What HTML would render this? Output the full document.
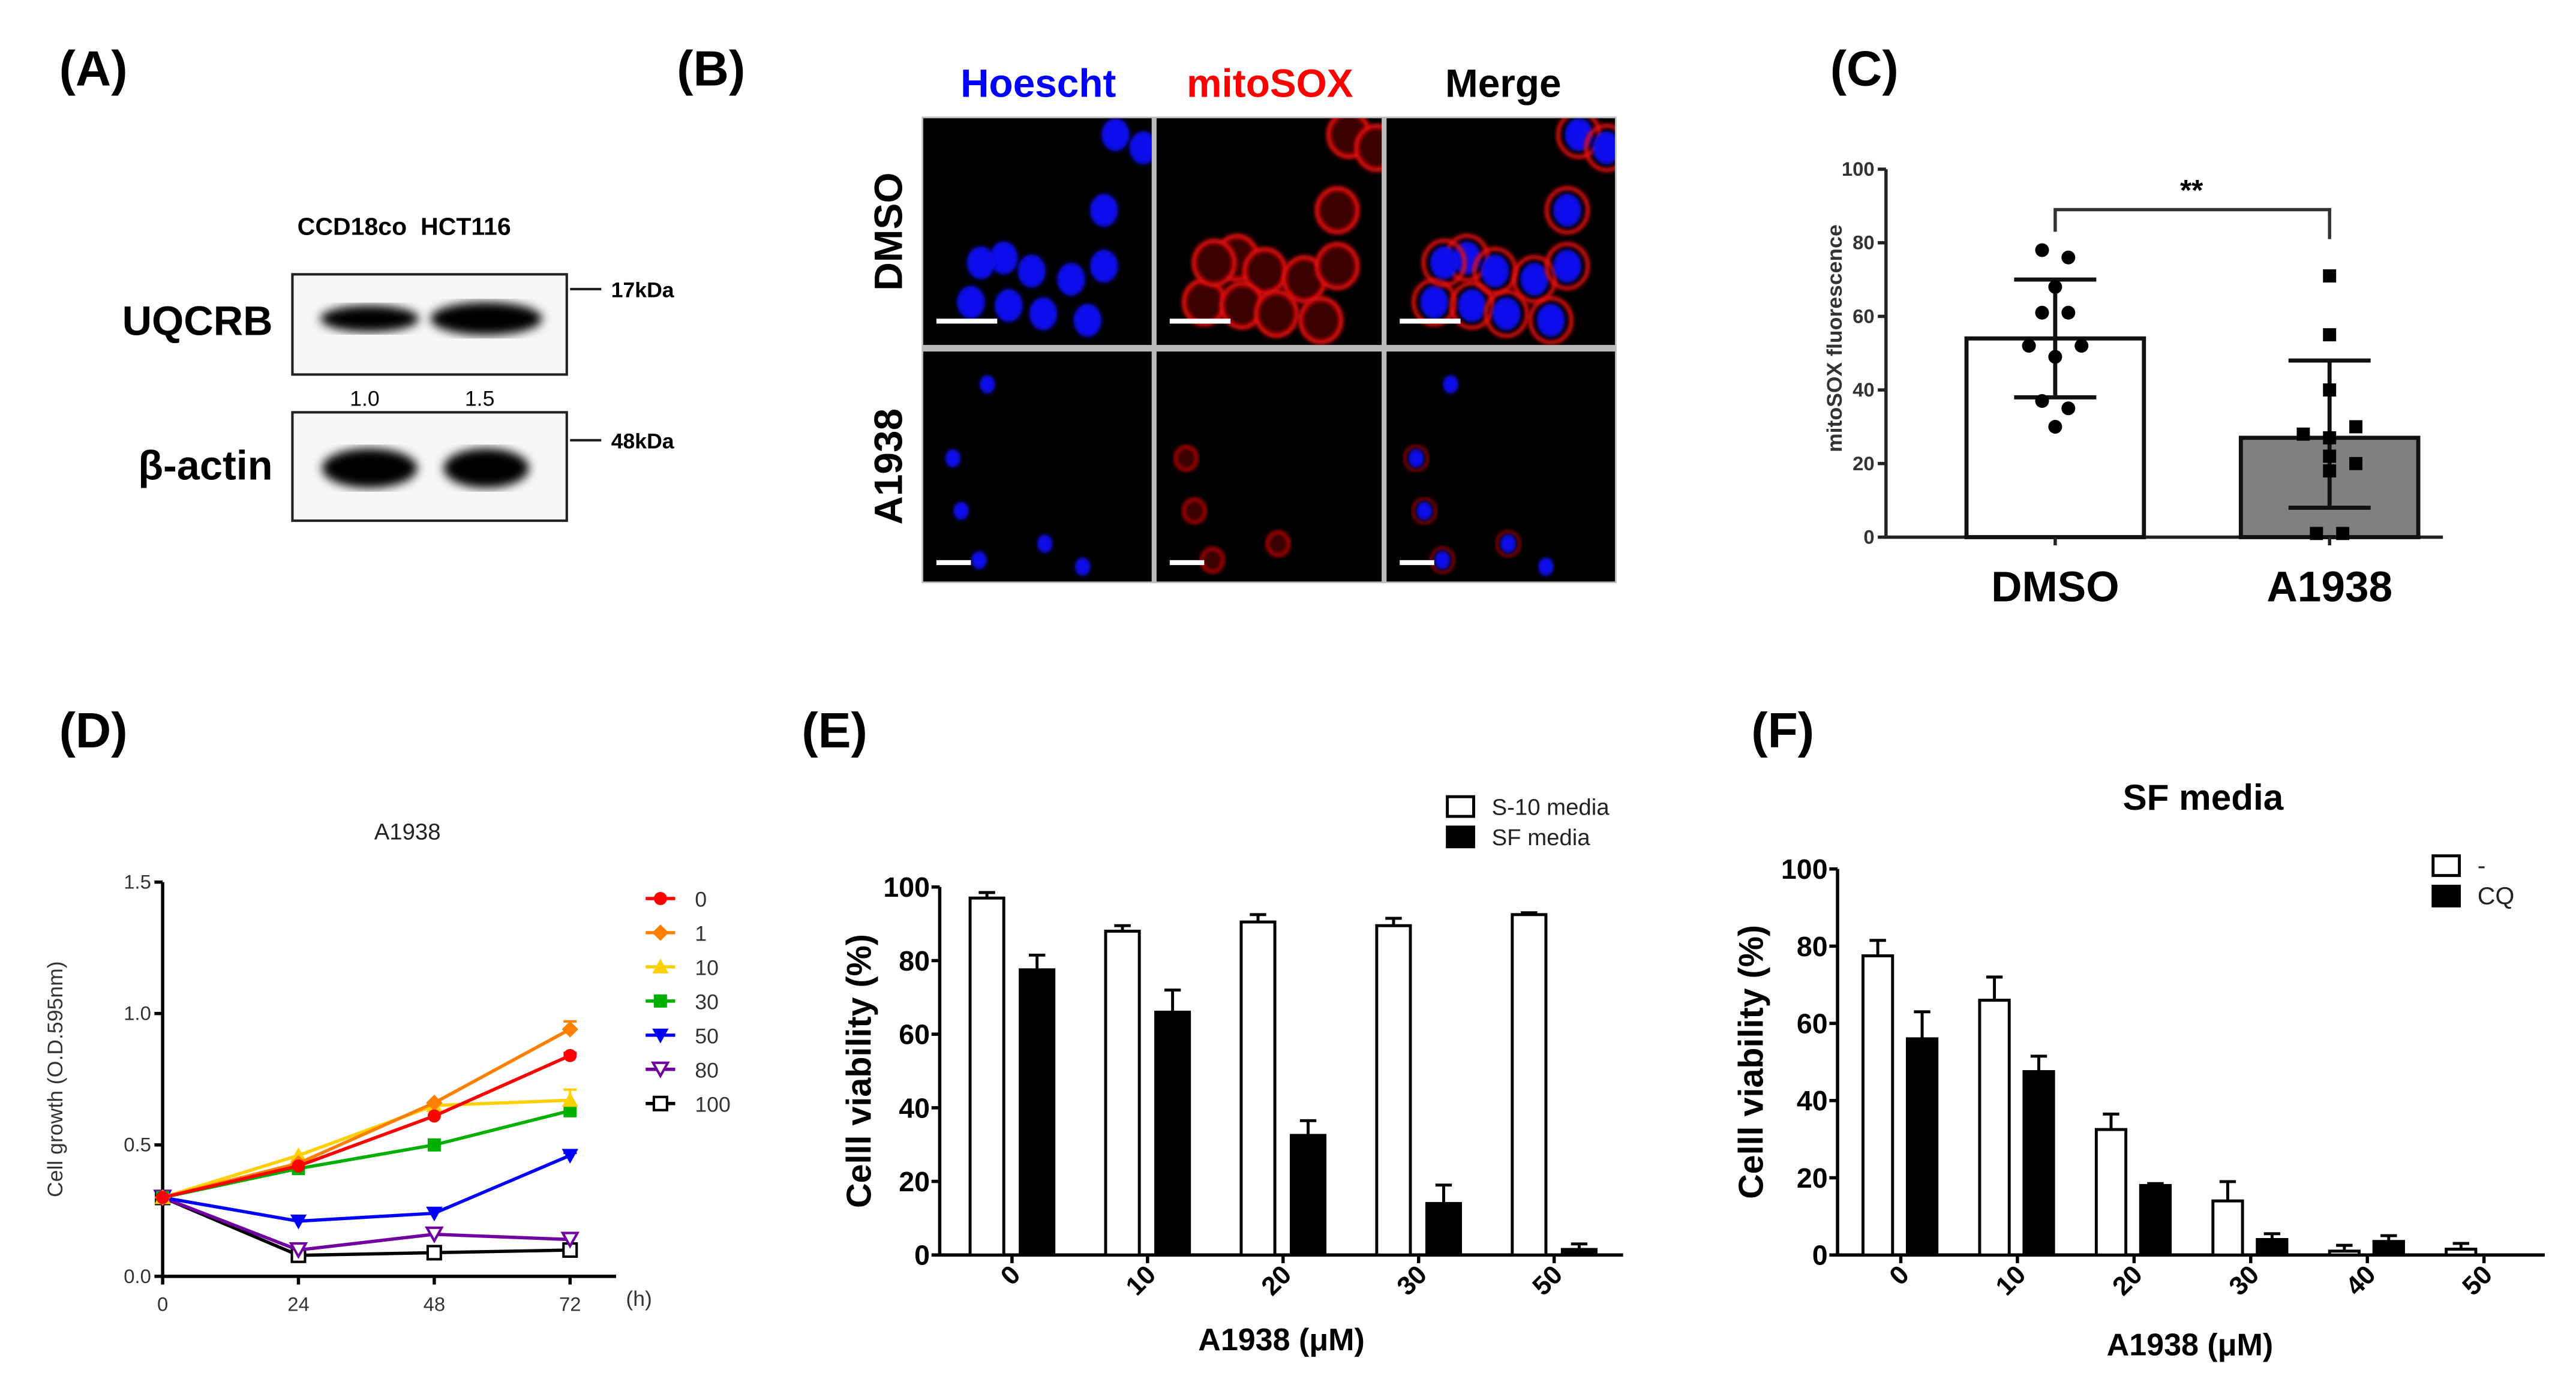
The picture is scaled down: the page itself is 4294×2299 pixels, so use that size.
<!DOCTYPE html>
<html><head><meta charset="utf-8"><style>
html,body{margin:0;padding:0;background:#fff;}
svg{display:block;font-family:"Liberation Sans",sans-serif;}
</style></head><body>
<svg id="fig" width="4294" height="2299" viewBox="0 0 1568 839.5" xmlns="http://www.w3.org/2000/svg">
<defs>
<filter id="blur1"><feGaussianBlur stdDeviation="3"/></filter>
<filter id="blur2"><feGaussianBlur stdDeviation="1.2"/></filter>
</defs>
<g font-weight="bold" font-size="30" fill="#000">
<text x="36" y="52">(A)</text>
<text x="412" y="52">(B)</text>
<text x="1114" y="52">(C)</text>
<text x="36" y="455">(D)</text>
<text x="488" y="455">(E)</text>
<text x="1066" y="455">(F)</text>
</g>
<g>
<text x="181" y="143" font-size="15" font-weight="bold">CCD18co&#160;&#160;HCT116</text>
<text x="166" y="204" font-size="25" font-weight="bold" text-anchor="end">UQCRB</text>
<rect x="178" y="167" width="167" height="61" fill="#f7f7f7" stroke="#222" stroke-width="1.5"/>
<ellipse cx="225" cy="194" rx="30" ry="8" fill="#000" filter="url(#blur1)"/>
<ellipse cx="296" cy="194" rx="34" ry="10" fill="#000" filter="url(#blur1)"/>
<line x1="347" y1="176" x2="366" y2="176" stroke="#222" stroke-width="1.5"/>
<text x="372" y="181" font-size="13" font-weight="bold">17kDa</text>
<text x="222" y="247" font-size="13" text-anchor="middle">1.0</text>
<text x="292" y="247" font-size="13" text-anchor="middle">1.5</text>
<text x="166" y="292" font-size="25" font-weight="bold" text-anchor="end">β-actin</text>
<rect x="178" y="251" width="167" height="66" fill="#f7f7f7" stroke="#222" stroke-width="1.5"/>
<ellipse cx="225" cy="285" rx="29" ry="12" fill="#000" filter="url(#blur1)"/>
<ellipse cx="296" cy="285" rx="26" ry="12" fill="#000" filter="url(#blur1)"/>
<line x1="347" y1="268" x2="366" y2="268" stroke="#222" stroke-width="1.5"/>
<text x="372" y="273" font-size="13" font-weight="bold">48kDa</text>
</g>
<g font-weight="bold" font-size="24">
<text x="632" y="59" fill="#0000ff" text-anchor="middle">Hoescht</text>
<text x="773" y="59" fill="#ff0000" text-anchor="middle">mitoSOX</text>
<text x="915" y="59" fill="#000" text-anchor="middle">Merge</text>
<text transform="translate(549,141) rotate(-90)" text-anchor="middle">DMSO</text>
<text transform="translate(549,284) rotate(-90)" text-anchor="middle">A1938</text>
<rect x="561" y="71" width="423" height="284" fill="#bbb"/>
<g id="micro"></g>
</g>
<g id="chartC"></g>
<g id="chartD"></g>
<g id="chartE"></g>
<g id="chartF"></g>
</svg>
<script>
const NS='http://www.w3.org/2000/svg';
function mk(tag,attrs,parent){const e=document.createElementNS(NS,tag);for(const k in attrs)e.setAttribute(k,attrs[k]);parent.appendChild(e);return e;}
function txt(s,attrs,parent){const e=mk('text',attrs,parent);e.textContent=s;return e;}

const micro=document.getElementById('micro');
const colX=[562,704,844], colW=[139,137,139];
const rowY=[72,214], rowH=[138,140];
const dmsoCells=[[29,112],[49,85],[66,93],[90,98],[110,90],[110,56],[52,114],[73,119],[100,123],[35,88],[117,10],[134,18]];
const aCells=[[39,20],[18,65],[23,97],[34,127],[74,117],[97,131]];
for(let r=0;r<2;r++)for(let c=0;c<3;c++){
  const p=mk('rect',{x:colX[c],y:rowY[r],width:colW[c],height:rowH[r],fill:'#000'},micro);
  
  
  const cells=r===0?dmsoCells:aCells, rad=r===0?10:5.5;
  const g=mk('g',{},micro);
  const cp=mk('clipPath',{id:'cp'+r+c},g);
  mk('rect',{x:colX[c],y:rowY[r],width:colW[c],height:rowH[r]},cp);
  const gg=mk('g',{'clip-path':'url(#cp'+r+c+')'},g);
  cells.forEach((pt,i)=>{
    const cx=colX[0]+pt[0]+(colX[c]-colX[0]), cy=rowY[r]+pt[1];
    if(c!==0&&(r===0||i===1||i===2||i===3||i===4)){const e=mk('ellipse',{cx:cx,cy:cy,rx:rad*1.25,ry:rad*1.35,fill:c===1?'#3a0000':'none',stroke:'#e01010','stroke-width':r===0?2.5:1.2,filter:'url(#blur2)'},gg);
      
      }
    if(c!==1){const e=mk('ellipse',{cx:cx,cy:cy,rx:rad*0.85,ry:rad,fill:'#1010ee',filter:'url(#blur2)'},gg);
      
      }
  });
  const sb=mk('rect',{x:colX[c]+8,y:rowY[r]+(r===0?122:127),width:r===0?37:21,height:3,fill:'#fff'},micro);
  
  
}

const cCats=['DMSO','A1938'];
const cMeans=[54,27];
const cLo=[38,8];
const cHi=[70,48];
const cDmsoPts=[78,76,68,61,61,52,52,49,37,35,30];
const cA1938Pts=[71,55,40,28,27,30,22,20,18,1,1];
const cTicks=[0,20,40,60,80,100];
(function(){
  const g=document.getElementById('chartC');
  const y=v=>327-v*2.24, cx=[1251,1418], bw=108;
  const ax=mk('path',{d:'M1148,103 V327 H1487',stroke:'#222','stroke-width':2,fill:'none'},g);
  
  
  cTicks.forEach(t=>{mk('line',{x1:1143,x2:1148,y1:y(t),y2:y(t),stroke:'#222','stroke-width':2},g);
    const l=txt(String(t),{x:1141,y:y(t)+4,'font-size':12,'font-weight':'bold','text-anchor':'end',fill:'#333'},g);
    
    });
  const yl=txt('mitoSOX fluorescence',{transform:'translate(1121,206) rotate(-90)','font-size':13,'font-weight':'bold','text-anchor':'middle',fill:'#333'},g);
  
  
  const fills=['#fff','#808080'];
  cCats.forEach((c,i)=>{
    const b=mk('rect',{x:cx[i]-bw/2,y:y(cMeans[i]),width:bw,height:cMeans[i]*2.24,fill:fills[i],stroke:'#111','stroke-width':2.5},g);
    
    
    mk('line',{x1:cx[i],x2:cx[i],y1:y(cHi[i]),y2:y(cLo[i]),stroke:'#111','stroke-width':2.5},g);
    [cHi[i],cLo[i]].forEach(v=>mk('line',{x1:cx[i]-25,x2:cx[i]+25,y1:y(v),y2:y(v),stroke:'#111','stroke-width':2.5},g));
    mk('line',{x1:cx[i],x2:cx[i],y1:327,y2:332,stroke:'#222','stroke-width':2},g);
    const l=txt(c,{x:cx[i],y:366,'font-size':26,'font-weight':'bold','text-anchor':'middle'},g);
    
    
  });
  const off=[-8,8,0,-8,8,-16,16,0,-8,8,0];
  cDmsoPts.forEach((v,k)=>{const d=mk('circle',{cx:cx[0]+off[k],cy:y(v),r:4.2,fill:'#000'},g);
    
    });
  const off2=[0,0,0,-16,0,16,0,16,0,-8,8];
  cA1938Pts.forEach((v,k)=>{const d=mk('rect',{x:cx[1]+off2[k]-4,y:y(v)-4,width:8,height:8,fill:'#000'},g);
    
    });
  const br=mk('path',{d:`M${cx[0]},${y(83)} V${y(89)} H${cx[1]} V${y(81)}`,stroke:'#333','stroke-width':2,fill:'none'},g);
  
  
  const s=txt('**',{x:1334,y:122,'font-size':18,'font-weight':'bold','text-anchor':'middle'},g);
  
  
})();

const dHours=[0,24,48,72];
const dDoses=['0','1','10','30','50','80','100'];
const dS0=[0.30,0.42,0.61,0.84];
const dS1=[0.30,0.43,0.66,0.94];
const dS10=[0.30,0.46,0.65,0.67];
const dS30=[0.30,0.41,0.50,0.63];
const dS50=[0.30,0.21,0.24,0.46];
const dS80=[0.30,0.10,0.16,0.14];
const dS100=[0.30,0.08,0.09,0.10];
const dErr72=[0.01,0.03,0.04,0.02,0.01,0.02,0.01];
const dYTicks=['0.0','0.5','1.0','1.5'];
(function(){
  const g=document.getElementById('chartD');
  const series=[dS0,dS1,dS10,dS30,dS50,dS80,dS100];
  const colors=['#ff0000','#ff8000','#ffd000','#00b000','#0000ff','#7000a0','#000000'];
  const x=h=>99+h*(347-99)/72, y=v=>777-v*160;
  const ax=mk('path',{d:'M99,537 V777 H375',stroke:'#000','stroke-width':2,fill:'none'},g);
  
  
  dYTicks.forEach(t=>{const v=parseFloat(t);mk('line',{x1:94,x2:99,y1:y(v),y2:y(v),stroke:'#000','stroke-width':2},g);
    const l=txt(t,{x:92,y:y(v)+4,'font-size':12,'text-anchor':'end',fill:'#333'},g);
    
    });
  dHours.forEach(h=>{mk('line',{x1:x(h),x2:x(h),y1:777,y2:782,stroke:'#000','stroke-width':2},g);
    const l=txt(String(h),{x:x(h),y:798,'font-size':12,'text-anchor':'middle',fill:'#333'},g);
    
    });
  const hl=txt('(h)',{x:381,y:795,'font-size':13,fill:'#333'},g);
  
  
  const tt=txt('A1938',{x:248,y:511,'font-size':14,'text-anchor':'middle',fill:'#222'},g);
  
  
  const yl=txt('Cell growth (O.D.595nm)',{transform:'translate(38,657) rotate(-90)','font-size':13,'text-anchor':'middle',fill:'#333'},g);
  
  
  function marker(k,cx,cy,par){
    const c=colors[k];let e;
    if(k===0)e=mk('circle',{cx:cx,cy:cy,r:4,fill:c},par);
    else if(k===1)e=mk('path',{d:`M${cx},${cy-5} L${cx+5},${cy} L${cx},${cy+5} L${cx-5},${cy} Z`,fill:c},par);
    else if(k===2)e=mk('path',{d:`M${cx},${cy-5} L${cx+5},${cy+4} L${cx-5},${cy+4} Z`,fill:c},par);
    else if(k===3)e=mk('rect',{x:cx-4,y:cy-4,width:8,height:8,fill:c},par);
    else if(k===4)e=mk('path',{d:`M${cx-5},${cy-4} L${cx+5},${cy-4} L${cx},${cy+5} Z`,fill:c},par);
    else if(k===5)e=mk('path',{d:`M${cx-4.5},${cy-4} L${cx+4.5},${cy-4} L${cx},${cy+4} Z`,fill:'#fff',stroke:c,'stroke-width':1.5},par);
    else e=mk('rect',{x:cx-4,y:cy-4,width:8,height:8,fill:'#fff',stroke:c,'stroke-width':1.5},par);
    return e;
  }
  for(let k=series.length-1;k>=0;k--){
    const s=series[k];
    const ln=mk('polyline',{points:s.map((v,i)=>x(dHours[i])+','+y(v)).join(' '),fill:'none',stroke:colors[k],'stroke-width':2},g);
    
    
    const e72=dErr72[k];
    mk('path',{d:`M${x(72)},${y(s[3])} V${y(s[3]+e72)} M${x(72)-4},${y(s[3]+e72)} H${x(72)+4}`,stroke:colors[k],'stroke-width':1.5,fill:'none'},g);
    s.forEach((v,i)=>{const m=marker(k,x(dHours[i]),y(v),g);
      
      });
  }
  dDoses.forEach((d,k)=>{
    const ly=547+k*20.8;
    const lg=mk('g',{},g);
    
    
    mk('line',{x1:393,x2:411,y1:ly,y2:ly,stroke:colors[k],'stroke-width':2},lg);
    marker(k,402,ly,lg);
    txt(d,{x:423,y:ly+5,'font-size':13,fill:'#333'},lg);
  });
})();

const eCats=['0','10','20','30','50'];
const eS10=[97,88,90.5,89.5,92.5];
const eS10Err=[1.5,1.5,2,2,0.5];
const eSF=[77.5,66,32.5,14,1.5];
const eSFErr=[4,6,4,5,1.5];
const eYTicks=[0,20,40,60,80,100];
const fCats=['0','10','20','30','40','50'];
const fNone=[77.5,66,32.5,14,1,1.5];
const fNoneErr=[4,6,4,5,1.5,1.5];
const fCQ=[56,47.5,18,4,3.5,0];
const fCQErr=[7,4,0.5,1.5,1.5,0];
const fYTicks=[0,20,40,60,80,100];

function barChart(g,o){
  const y=v=>o.y0-v*(o.y0-o.y100)/100;
  const ax=mk('path',{d:`M${o.ax},${o.y100} V${o.y0} H${o.axEnd}`,stroke:'#000','stroke-width':2,fill:'none'},g);
  
  
  o.yTicks.forEach(t=>{mk('line',{x1:o.ax-5,x2:o.ax,y1:y(t),y2:y(t),stroke:'#000','stroke-width':2},g);
    const l=txt(String(t),{x:o.ax-6,y:y(t)+6,'font-size':17,'font-weight':'bold','text-anchor':'end'},g);
    
    });
  o.cats.forEach((c,i)=>{
    const tx=o.tick0+i*o.step;
    mk('line',{x1:tx,x2:tx,y1:o.y0,y2:o.y0+5,stroke:'#000','stroke-width':2},g);
    const l=txt(c,{transform:`translate(${tx+6},${o.y0+13}) rotate(-45)`,'font-size':16,'font-weight':'bold','text-anchor':'end'},g);
    
    
    [[o.a,o.aErr,'#fff',o.aOff,o.aName],[o.b,o.bErr,'#000',o.bOff,o.bName]].forEach(s=>{
      const v=s[0][i]; if(v<=0)return;
      const bx=tx+s[3], top=y(v);
      const b=mk('rect',{x:bx,y:top,width:o.bw,height:o.y0-top,fill:s[2],stroke:'#000','stroke-width':1.8},g);
      
      
      const e=s[1][i], cx=bx+o.bw/2;
      if(e>0){const er=mk('path',{d:`M${cx},${top} V${y(v+e)} M${cx-5},${y(v+e)} H${cx+5}`,stroke:'#000','stroke-width':1.8,fill:'none'},g);
        
        }
    });
  });
  const yl=txt('Celll viability (%)',{transform:`translate(${o.ylx},${(o.y0+o.y100)/2}) rotate(-90)`,'font-size':21,'font-weight':'bold','text-anchor':'middle'},g);
  
  
  const xl=txt('A1938 (μM)',{x:o.xlx,y:o.xly,'font-size':19,'font-weight':'bold','text-anchor':'middle'},g);
  
  
  [[o.aName,'#fff'],[o.bName,'#000']].forEach((s,k)=>{
    const lg=mk('g',{},g);
    
    
    mk('rect',{x:o.lx,y:o.ly+k*18.5,width:16,height:12,fill:s[1],stroke:'#000','stroke-width':1.8},lg);
    txt(o.legend[k],{x:o.lx+27,y:o.ly+11+k*18.5,'font-size':o.lfs,fill:'#222'},lg);
  });
}
barChart(document.getElementById('chartE'),{y0:764,y100:540,ax:572,axEnd:988,tick0:616,step:82.5,cats:eCats,
  a:eS10,aErr:eS10Err,b:eSF,bErr:eSFErr,aOff:-25.5,bOff:5,bw:20.5,yTicks:eYTicks,aName:'s10',bName:'sf',
  ylx:530,xlx:780,xly:822,lx:881,ly:485,legend:['S-10 media','SF media'],lfs:14});
barChart(document.getElementById('chartF'),{y0:764,y100:529,ax:1118.5,axEnd:1549,tick0:1157,step:71,cats:fCats,
  a:fNone,aErr:fNoneErr,b:fCQ,bErr:fCQErr,aOff:-23,bOff:4,bw:18,yTicks:fYTicks,aName:'untreated',bName:'cq',
  ylx:1073,xlx:1333,xly:825,lx:1481,ly:521,legend:['-','CQ'],lfs:15});
(function(){const g=document.getElementById('chartF');
  const t=txt('SF media',{x:1341,y:493,'font-size':22,'font-weight':'bold','text-anchor':'middle'},g);
  
  })();
</script>
</body></html>
